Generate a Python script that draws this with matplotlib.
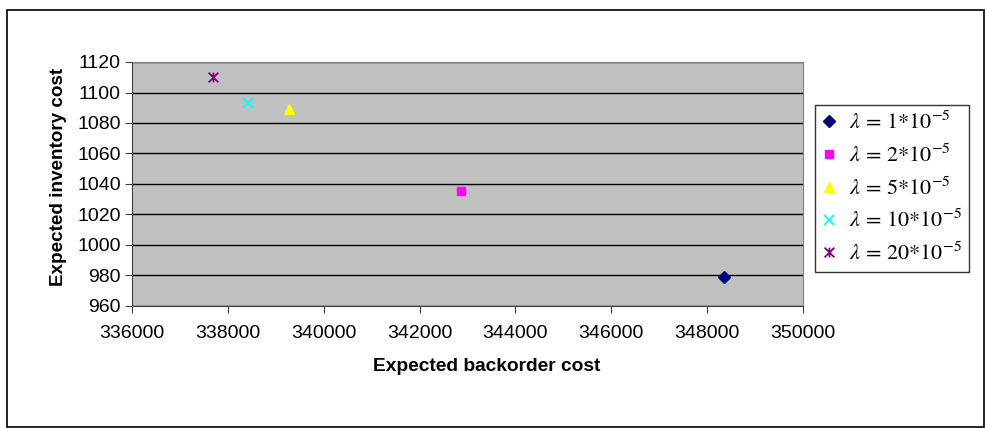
import matplotlib.pyplot as plt
from matplotlib.path import Path
from matplotlib.patches import Rectangle

backorder_cost = [348350, 342870, 339280, 338420, 337680]
inventory_cost = [979, 1035.5, 1089, 1093, 1110]
labels = [r'$\lambda\,=\,1{*}10^{-5}$', r'$\lambda\,=\,2{*}10^{-5}$', r'$\lambda\,=\,5{*}10^{-5}$',
          r'$\lambda\,=\,10{*}10^{-5}$', r'$\lambda\,=\,20{*}10^{-5}$']

# excel style star: an x with a vertical bar through it
star = Path([(-1, -1), (1, 1), (-1, 1), (1, -1), (0, -1), (0, 1)],
            [Path.MOVETO, Path.LINETO, Path.MOVETO, Path.LINETO, Path.MOVETO, Path.LINETO])

styles = [
    dict(marker='D', color='#000080', ms=6),
    dict(marker='s', color='#FF00FF', ms=6),
    dict(marker='^', color='#FFFF00', ms=7.5),
    dict(marker='x', color='#00FFFF', ms=7, mew=1.3),
    dict(marker=star, color='#800080', ms=7, mew=1.3),
]

plt.rcParams['font.family'] = ['Liberation Sans', 'DejaVu Sans']
plt.rcParams['mathtext.fontset'] = 'stix'

fig = plt.figure(figsize=(9.85, 4.28), dpi=100)
ax = fig.add_axes([132 / 985, 1 - 306 / 428, 671 / 985, 244 / 428])
ax.set_facecolor('#C0C0C0')

for x, y, lab, st in zip(backorder_cost, inventory_cost, labels, styles):
    ax.plot([x], [y], linestyle='none', label=lab, zorder=3, **st)

ax.set_xlim(336000, 350000)
ax.set_ylim(960, 1120)
ax.set_xticks(range(336000, 350001, 2000))
ax.set_yticks(range(960, 1121, 20))
ax.yaxis.grid(True, color='black', linewidth=1)
ax.set_axisbelow(True)
for side in ['top', 'right']:
    ax.spines[side].set_color('#808080')
for side in ['left', 'bottom']:
    ax.spines[side].set_color('#404040')
ax.tick_params(axis='both', labelsize=14, length=5, color='#404040', pad=3)
ax.tick_params(axis='x', pad=9)
ax.set_xlabel('Expected backorder cost', fontsize=13.8, fontweight='bold')
ax.set_ylabel('Expected inventory cost', fontsize=13.6, fontweight='bold')
ax.xaxis.set_label_coords(0.529, -0.215)
ax.yaxis.set_label_coords(-0.097, 0.527)

leg = fig.legend(loc='upper left', bbox_to_anchor=(815 / 985, 1 - 105 / 428),
                 fontsize=16, frameon=True, fancybox=False, edgecolor='black',
                 borderpad=0.3, labelspacing=0.46, handletextpad=0.55, handlelength=0.7,
                 borderaxespad=0)
leg.get_frame().set_linewidth(1)

# chart area border
fig.patches.append(Rectangle((7 / 985, 1 / 428), 977 / 985, 417 / 428, transform=fig.transFigure,
                             fill=False, edgecolor='black', linewidth=1.2))

fig.savefig('out.png', dpi=100)
